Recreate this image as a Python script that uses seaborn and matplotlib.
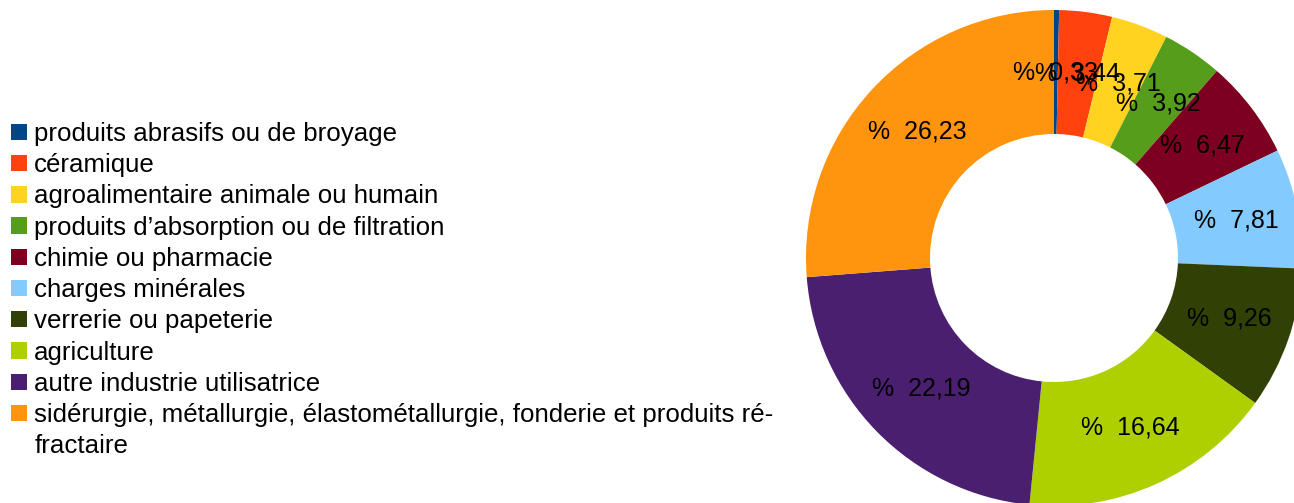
import matplotlib
matplotlib.use('Agg')
import matplotlib.pyplot as plt
from matplotlib.patches import Patch
import seaborn as sns

# --- data ---
categories = [
    'produits abrasifs ou de broyage',
    'céramique',
    'agroalimentaire animale ou humain',
    'produits d\u2019absorption ou de filtration',
    'chimie ou pharmacie',
    'charges minérales',
    'verrerie ou papeterie',
    'agriculture',
    'autre industrie utilisatrice',
    'sidérurgie, métallurgie, élastométallurgie, fonderie et produits ré-\nfractaire',
]
shares = [0.33, 3.44, 3.71, 3.92, 6.47, 7.81, 9.26, 16.64, 22.19, 26.23]
colors = ['#004586', '#ff420e', '#ffd320', '#579d1c', '#7e0021',
          '#83caff', '#314004', '#aecf00', '#4b1f6f', '#ff950e']

sns.set_theme(style='white')
plt.rcParams['font.family'] = ['Liberation Sans', 'DejaVu Sans']
plt.rcParams['text.color'] = 'black'

fig = plt.figure(figsize=(12.94, 5.03), dpi=100)
ax = fig.add_axes([806 / 1294, -3 / 503, 496 / 1294, 496 / 503])

palette = sns.color_palette(colors)


def fmt(pct):
    return '%  ' + f'{pct:.2f}'.replace('.', ',')


wedges, _, autotexts = ax.pie(
    shares, colors=palette, startangle=90, counterclock=False,
    autopct=fmt, pctdistance=0.75, radius=1.0,
    wedgeprops=dict(width=0.5, linewidth=0),
    textprops=dict(fontsize=18, color='black'),
)
ax.set_xlim(-1, 1)
ax.set_ylim(-1, 1)
ax.set_aspect('equal')
for w in wedges:
    w.set_clip_on(False)

# legend: wrapped label continues on its own row, marker stays on first line
handles, labels = [], []
for w, cat in zip(wedges, categories):
    parts = cat.split('\n')
    handles.append(w)
    labels.append(parts[0])
    for extra in parts[1:]:
        handles.append(Patch(facecolor='none', edgecolor='none'))
        labels.append(extra)

fig.legend(handles, labels, loc='upper left',
           bbox_to_anchor=(11 / 1294, 1 - 122 / 503),
           frameon=False, fontsize=18.6, labelcolor='black',
           handlelength=0.6, handleheight=0.6,
           handletextpad=0.3, labelspacing=0.28, borderpad=0, borderaxespad=0)

fig.savefig('out.png', dpi=100)
